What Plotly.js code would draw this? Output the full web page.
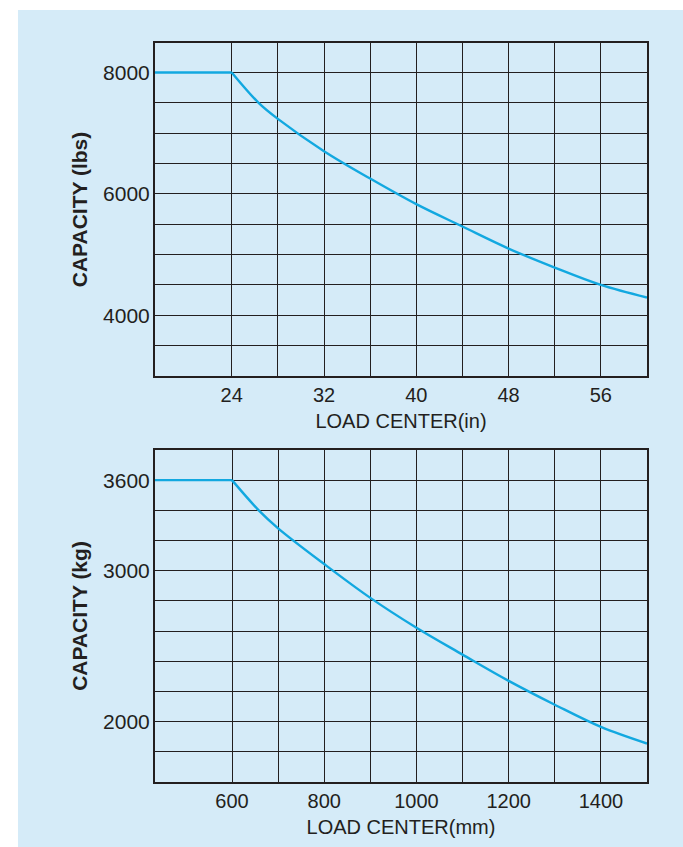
<!DOCTYPE html>
<html>
<head>
<meta charset="utf-8">
<script src="https://cdn.plot.ly/plotly-3.0.1.min.js"></script>
<style>
html,body{margin:0;padding:0;background:#fff;}
#chart{width:683px;height:847px;}
</style>
</head>
<body>
<div id="chart"></div>
<script>
// Imperial chart: load center (in) vs capacity (lbs)
const loadCenterIn = [17.35, 24, 26.33, 28, 32, 36, 40, 44, 48, 52, 56, 60];
const capacityLbs  = [8000, 8000, 7500, 7236, 6703, 6252, 5830, 5462, 5099, 4786, 4500, 4293];

// Metric chart: load center (mm) vs capacity (kg)
const loadCenterMm = [433, 600, 658, 700, 800, 900, 1000, 1100, 1200, 1300, 1400, 1500];
const capacityKg   = [3600, 3600, 3400, 3281, 3044, 2820, 2622, 2444, 2270, 2112, 1965, 1855];

// Grid / tick definitions
const inGridVals   = [24, 28, 32, 36, 40, 44, 48, 52, 56, 60];
const inGridText   = ['24', '', '32', '', '40', '', '48', '', '56', ''];
const lbsGridVals  = [3000, 3500, 4000, 4500, 5000, 5500, 6000, 6500, 7000, 7500, 8000];
const lbsGridText  = ['', '', '4000', '', '', '', '6000', '', '', '', '8000'];
const mmGridVals   = [600, 700, 800, 900, 1000, 1100, 1200, 1300, 1400, 1500];
const mmGridText   = ['600', '', '800', '', '1000', '', '1200', '', '1400', ''];
const kgGridVals   = [1600, 1800, 2000, 2200, 2400, 2600, 2800, 3000, 3200, 3400, 3600, 3800];
const kgGridText   = ['', '', '2000', '', '', '', '', '3000', '', '', '3600', ''];

const xTitleIn = 'LOAD CENTER(in)';
const yTitleLbs = 'CAPACITY (lbs)';
const xTitleMm = 'LOAD CENTER(mm)';
const yTitleKg = 'CAPACITY (kg)';

const lineColor = '#12a8e0';
const gridColor = '#231f20';
const panelColor = '#d5ebf8';
const fontFam = 'Liberation Sans, Arial, Helvetica, sans-serif';

function curveTraces(xs, ys, xa, ya) {
  // flat rated-capacity section, then the smooth derating curve
  return [
    {x: xs.slice(0, 2), y: ys.slice(0, 2), xaxis: xa, yaxis: ya, mode: 'lines',
     line: {color: lineColor, width: 2.4}, hoverinfo: 'skip', showlegend: false},
    {x: xs.slice(1), y: ys.slice(1), xaxis: xa, yaxis: ya, mode: 'lines',
     line: {color: lineColor, width: 2.4, shape: 'spline', smoothing: 1}, hoverinfo: 'skip', showlegend: false}
  ];
}

const traces = curveTraces(loadCenterIn, capacityLbs, 'x', 'y')
  .concat(curveTraces(loadCenterMm, capacityKg, 'x2', 'y2'));

function xAx(vals, text, range, anchor, title) {
  return {
    range: range, tickmode: 'array', tickvals: vals, ticktext: text,
    showgrid: true, gridcolor: gridColor, gridwidth: 1,
    showline: true, mirror: true, linecolor: gridColor, linewidth: 2,
    ticks: '', zeroline: false, anchor: anchor,
    tickfont: {family: fontFam, size: 20, color: '#231f20'},
    title: {text: title, standoff: 9, font: {family: fontFam, size: 20, color: '#231f20'}}
  };
}
function yAx(vals, text, range, domain, anchor, title) {
  return {
    range: range, domain: domain, tickmode: 'array', tickvals: vals, ticktext: text,
    showgrid: true, gridcolor: gridColor, gridwidth: 1,
    showline: true, mirror: true, linecolor: gridColor, linewidth: 2,
    ticks: '', zeroline: false, anchor: anchor, ticklabelstandoff: -1,
    tickfont: {family: fontFam, size: 21, color: '#231f20'},
    title: {text: title, standoff: 10, font: {family: fontFam, size: 21, color: '#231f20', weight: 'bold'}}
  };
}

const layout = {
  width: 683, height: 847,
  margin: {l: 155, r: 36, t: 43, b: 65, autoexpand: false},
  paper_bgcolor: '#ffffff',
  plot_bgcolor: '#ffffff',
  font: {family: fontFam, color: '#231f20'},
  xaxis: xAx(inGridVals, inGridText, [17.35, 60], 'y', xTitleIn),
  yaxis: yAx(lbsGridVals, lbsGridText, [3000, 8485], [0.5494, 1], 'x', yTitleLbs),
  xaxis2: xAx(mmGridVals, mmGridText, [433, 1500], 'y2', xTitleMm),
  yaxis2: yAx(kgGridVals, kgGridText, [1600, 3800], [0, 0.4493], 'x2', yTitleKg),
  shapes: [
    {type: 'rect', xref: 'paper', yref: 'paper', layer: 'below',
     x0: -0.2785, x1: 1.08, y0: -0.09, y1: 1.0447,
     fillcolor: panelColor, line: {width: 0}}
  ]
};

Plotly.newPlot('chart', traces, layout, {displayModeBar: false, staticPlot: true});
</script>
</body>
</html>
